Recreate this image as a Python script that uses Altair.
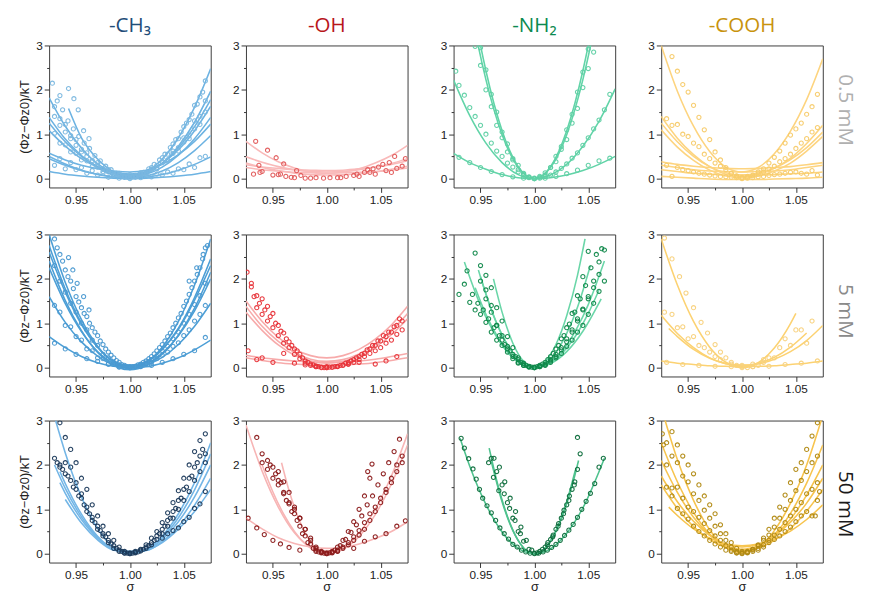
import altair as alt
import pandas as pd

# ---------------- shared grids (sigma values) ----------------
S = [0.925, 0.94, 0.955, 0.97, 0.985, 1.0, 1.015, 1.03, 1.045, 1.06, 1.075]
P = [0.930, 0.935, 0.940, 0.945, 0.950, 0.955, 0.960, 0.965, 0.970, 0.975,
     0.980, 0.985, 0.990, 0.995, 1.000, 1.005, 1.010, 1.015, 1.020, 1.025,
     1.030, 1.035, 1.040, 1.045, 1.050, 1.055, 1.060, 1.065, 1.070]
P2 = [0.9325, 0.9375, 0.9425, 0.9475, 0.9525, 0.9575, 0.9625, 0.9675, 0.9725, 0.9775,
      0.9825, 0.9875, 0.9925, 0.9975, 1.0025, 1.0075, 1.0125, 1.0175, 1.0225, 1.0275,
      1.0325, 1.0375, 1.0425, 1.0475, 1.0525, 1.0575, 1.0625, 1.0675]
N = None

GROUPS = ["-CH₃", "-OH", "-NH₂", "-COOH"]
GROUP_COLORS = ["#1f4e79", "#b8161b", "#0c8a50", "#c8930e"]
ROWS = ["0.5 mM", "5 mM", "50 mM"]
ROW_COLORS = ["#b0b0b0", "#8a8a8a", "#1a1a1a"]
LINE_COLORS = [
    ["#6db3e2", "#f9b9b9", "#62d4a8", "#fdd47f"],
    ["#4d9fd6", "#f7aaaa", "#6ad6a8", "#fcd272"],
    ["#74b6e6", "#f7b5b5", "#4fc28e", "#f7c44e"],
]
POINT_COLORS = [
    ["#7bb8e0", "#e25a5a", "#5fd0a5", "#f7cc6b"],
    ["#4a99d1", "#e8343a", "#10894b", "#f8d27e"],
    ["#1d3b5c", "#8c1c1c", "#0d6d3c", "#b28a12"],
]

# ======================= 0.5 mM =======================
CH3_05_LINES = [
    (S, [1.82, 1.18, 0.69, 0.33, 0.12, 0.05, 0.15, 0.44, 0.92, 1.61, 2.48]),
    (S, [1.38, 0.89, 0.52, 0.25, 0.08, 0.03, 0.11, 0.34, 0.73, 1.27, 1.97]),
    (S, [1.25, 0.83, 0.50, 0.27, 0.13, 0.08, 0.15, 0.35, 0.69, 1.17, 1.78]),
    (S, [1.08, 0.73, 0.45, 0.26, 0.14, 0.10, 0.16, 0.35, 0.65, 1.08, 1.63]),
    (S, [0.57, 0.42, 0.30, 0.22, 0.17, 0.15, 0.19, 0.32, 0.54, 0.84, 1.23]),
    (S, [0.50, 0.33, 0.19, 0.10, 0.04, 0.02, 0.06, 0.17, 0.36, 0.63, 0.97]),
    (S, [0.45, 0.30, 0.18, 0.09, 0.03, 0.01, 0.03, 0.09, 0.19, 0.32, 0.49]),
    (S, [0.16, 0.10, 0.06, 0.03, 0.01, 0.00, 0.01, 0.03, 0.06, 0.10, 0.16]),
    ([0.943, 0.955, 0.97, 0.985, 1.0, 1.015, 1.03, 1.045, 1.06, 1.075],
     [1.58, 0.92, 0.44, 0.15, 0.05, 0.10, 0.26, 0.53, 0.90, 1.38]),
]
CH3_05_PTS = [
    (P, [1.62, 1.35, 1.22, 0.97, 0.88, 0.66, 0.58, 0.41, 0.36, 0.22, 0.20, 0.10, 0.09, 0.04, 0.06,
         0.05, 0.11, 0.13, 0.25, 0.30, 0.47, 0.55, 0.78, 0.90, 1.17, 1.33, 1.65, 1.84, 2.20]),
    (P, [1.02, 0.80, 0.76, 0.60, 0.57, 0.42, 0.40, 0.27, 0.26, 0.16, 0.17, 0.10, 0.12, 0.06, 0.09,
         0.07, 0.13, 0.12, 0.22, 0.23, 0.36, 0.40, 0.57, 0.62, 0.82, 0.90, 1.12, 1.22, 1.50]),
    (P, [0.30, 0.45, 0.22, 0.36, 0.20, 0.25, 0.12, 0.18, 0.08, 0.12, 0.03, 0.07, 0.01, 0.04, 0.00,
         0.03, 0.02, 0.06, 0.04, 0.10, 0.08, 0.15, 0.12, 0.22, 0.20, 0.33, 0.25, 0.47, 0.50]),
    (P, [1.40, 1.20, 1.05, 0.90, 0.75, 0.60, 0.50, 0.38, 0.30, 0.22, 0.15, 0.08, 0.07, 0.03, 0.02,
         0.05, 0.08, 0.10, 0.20, 0.22, 0.38, 0.42, 0.62, 0.70, 0.92, 0.98, 1.30, 1.40, 1.75]),
    (P2, [1.75, 1.55, 1.30, 1.12, 0.95, 0.80, 0.68, 0.52, 0.40, 0.28, 0.20, 0.12, 0.06, 0.03,
          0.04, 0.08, 0.14, 0.22, 0.32, 0.42, 0.55, 0.70, 0.88, 1.05, 1.25, 1.45, 1.68, 1.95]),
    ([0.928, 0.935, 0.943, 0.948, 0.952, 0.957, 0.962],
     [2.15, 1.87, 2.03, 1.80, 1.55, 1.08, 0.90]),
]

OH_05_LINES = [
    (S, [0.84, 0.58, 0.38, 0.24, 0.15, 0.12, 0.15, 0.22, 0.35, 0.52, 0.75]),
    (S, [0.49, 0.37, 0.27, 0.20, 0.16, 0.15, 0.16, 0.20, 0.26, 0.34, 0.45]),
    (S, [0.31, 0.26, 0.23, 0.20, 0.19, 0.18, 0.19, 0.22, 0.26, 0.32, 0.40]),
    (S, [0.25, 0.20, 0.17, 0.14, 0.13, 0.12, 0.13, 0.14, 0.16, 0.19, 0.24]),
    (S, [0.35, 0.25, 0.18, 0.12, 0.09, 0.08, 0.09, 0.11, 0.15, 0.21, 0.28]),
]
OH_05_PTS = [
    ([0.932, 0.934, 0.937, 0.938, 0.940, 0.945, 0.950, 0.953, 0.955, 0.957, 0.960, 0.962, 0.967,
      0.970, 0.972, 0.976, 0.980, 0.985, 0.990, 0.997, 1.003, 1.010, 1.013, 1.018, 1.025, 1.028,
      1.030, 1.035, 1.038, 1.040, 1.043, 1.045, 1.048, 1.052, 1.055, 1.058, 1.060, 1.063, 1.065,
      1.070, 1.073],
     [0.10, 0.84, 0.30, 0.14, 0.16, 0.64, 0.08, 0.47, 0.09, 0.10, 0.33, 0.05, 0.03,
      0.02, 0.18, 0.07, 0.01, 0.01, 0.02, 0.01, 0.02, 0.02, 0.02, 0.05, 0.07, 0.10,
      0.05, 0.14, 0.20, 0.14, 0.22, 0.10, 0.26, 0.32, 0.18, 0.36, 0.14, 0.50, 0.23,
      0.28, 0.45]),
]

NH2_05_LINES = [
    (S, [6.75, 4.32, 2.43, 1.08, 0.27, 0.00, 0.27, 1.08, 2.43, 4.32, 6.75]),
    (S, [6.19, 3.96, 2.23, 0.99, 0.25, 0.00, 0.25, 0.99, 2.23, 3.96, 6.19]),
    (S, [2.22, 1.42, 0.80, 0.36, 0.09, 0.00, 0.08, 0.32, 0.73, 1.29, 2.02]),
    (S, [0.57, 0.36, 0.21, 0.09, 0.02, 0.00, 0.02, 0.08, 0.18, 0.32, 0.50]),
]
NH2_05_PTS = [
    (P, [N, N, N, N, 2.95, 2.45, 1.90, 1.50, 1.05, 0.78, 0.45, 0.30, 0.10, 0.04, 0.00,
         0.03, 0.13, 0.25, 0.50, 0.72, 1.10, 1.45, 1.95, 2.40, 2.92, N, N, N, N]),
    (P, [N, N, N, 2.98, 2.55, 2.00, 1.62, 1.20, 0.92, 0.60, 0.42, 0.20, 0.12, 0.02, 0.01,
         0.05, 0.08, 0.25, 0.38, 0.66, 0.88, 1.25, 1.58, 2.05, 2.48, 2.85, N, N, N]),
    (P, [2.10, 1.88, 1.60, 1.40, 1.20, 1.00, 0.80, 0.62, 0.50, 0.35, 0.26, 0.15, 0.08, 0.03, 0.00,
         0.01, 0.05, 0.08, 0.15, 0.23, 0.33, 0.46, 0.58, 0.75, 0.92, 1.12, 1.32, 1.55, 1.90]),
    ([0.927, 0.93, 0.94, 0.95, 0.96, 0.97, 0.98, 0.99, 1.0, 1.01, 1.02, 1.03, 1.04, 1.05, 1.06, 1.07],
     [2.42, 0.48, 0.36, 0.25, 0.16, 0.09, 0.04, 0.01, 0.0, 0.01, 0.05, 0.11, 0.19, 0.30, 0.40, 0.46]),
]

COOH_05_LINES = [
    (S, [3.00, 1.97, 1.18, 0.61, 0.26, 0.15, 0.25, 0.56, 1.07, 1.78, 2.70]),
    (S, [1.40, 0.91, 0.54, 0.27, 0.10, 0.05, 0.10, 0.23, 0.46, 0.79, 1.20]),
    (S, [1.25, 0.83, 0.50, 0.27, 0.13, 0.08, 0.12, 0.24, 0.43, 0.70, 1.05]),
    (S, [1.10, 0.71, 0.41, 0.19, 0.06, 0.02, 0.06, 0.17, 0.35, 0.62, 0.95]),
    (S, [0.38, 0.32, 0.28, 0.25, 0.23, 0.22, 0.23, 0.25, 0.27, 0.31, 0.36]),
    (S, [0.30, 0.25, 0.20, 0.17, 0.16, 0.15, 0.16, 0.17, 0.20, 0.25, 0.30]),
    (S, [0.20, 0.16, 0.12, 0.10, 0.08, 0.08, 0.08, 0.09, 0.11, 0.12, 0.15]),
    (S, [0.05, 0.03, 0.01, -0.01, -0.02, -0.02, -0.02, -0.01, 0.00, 0.01, 0.03]),
]
COOH_05_PTS = [
    (P, [N, 2.75, 2.42, 2.12, 1.95, 1.65, 1.38, 1.10, 0.88, 0.60, 0.42, 0.25, 0.12, 0.05, 0.01,
         0.03, 0.08, 0.15, 0.22, 0.35, 0.48, 0.62, 0.80, 0.98, 1.12, 1.25, 1.45, 1.62, 1.90]),
    (P, [1.35, 1.20, 1.22, 1.00, 0.95, 0.80, 0.72, 0.55, 0.45, 0.35, 0.28, 0.20, 0.12, 0.06, 0.03,
         0.05, 0.06, 0.10, 0.15, 0.22, 0.28, 0.38, 0.45, 0.55, 0.68, 0.80, 0.90, 1.05, 1.15]),
    (P, [0.30, 0.05, 0.25, 0.20, 0.18, 0.15, 0.12, 0.10, 0.08, 0.06, 0.05, 0.04, 0.03, 0.02, 0.00,
         0.01, 0.02, 0.04, 0.05, 0.07, 0.09, 0.10, 0.12, 0.14, 0.15, 0.12, 0.10, 0.18, 0.08]),
]

# ======================= 5 mM =======================
CH3_5_LINES = [
    (S, [3.00, 1.92, 1.08, 0.48, 0.12, 0.00, 0.12, 0.46, 1.04, 1.86, 2.90]),
    (S, [2.75, 1.77, 1.00, 0.46, 0.13, 0.02, 0.12, 0.41, 0.89, 1.58, 2.45]),
    (S, [2.60, 1.70, 0.97, 0.46, 0.15, 0.05, 0.14, 0.41, 0.86, 1.52, 2.30]),
    (S, [2.40, 1.51, 0.83, 0.34, 0.05, -0.05, 0.04, 0.30, 0.73, 1.34, 2.15]),
    (S, [2.25, 1.44, 0.81, 0.36, 0.09, 0.00, 0.08, 0.32, 0.72, 1.28, 2.00]),
    (S, [1.60, 1.02, 0.58, 0.26, 0.06, 0.00, 0.06, 0.23, 0.52, 0.93, 1.45]),
    (S, [0.70, 0.45, 0.25, 0.11, 0.03, 0.00, 0.02, 0.10, 0.22, 0.40, 0.62]),
]
CH3_5_PTS = [
    (P, [2.90, 2.55, 2.20, 1.95, 1.60, 1.35, 1.15, 0.90, 0.72, 0.52, 0.35, 0.22, 0.12, 0.05, 0.02,
         0.03, 0.08, 0.15, 0.25, 0.38, 0.52, 0.70, 0.90, 1.12, 1.38, 1.65, 1.95, 2.25, 2.70]),
    (P, [2.30, 1.95, 1.70, 1.45, 1.25, 1.00, 0.85, 0.62, 0.50, 0.30, 0.22, 0.12, 0.06, 0.00, 0.01,
         0.02, 0.07, 0.10, 0.18, 0.25, 0.38, 0.48, 0.65, 0.80, 1.00, 1.20, 1.42, 1.62, 1.90]),
    (P, [1.40, 1.25, 0.95, 0.92, 0.70, 0.62, 0.42, 0.38, 0.22, 0.20, 0.08, 0.07, 0.01, 0.02, 0.00,
         0.03, 0.02, 0.08, 0.12, 0.20, 0.28, 0.35, 0.48, 0.56, 0.72, 0.85, 1.05, 1.20, 1.40]),
    (P2, [2.70, 2.40, 2.05, 1.78, 1.48, 1.22, 1.00, 0.80, 0.60, 0.42, 0.28, 0.16, 0.07, 0.02,
          0.02, 0.06, 0.12, 0.20, 0.31, 0.45, 0.60, 0.78, 1.00, 1.22, 1.50, 1.80, 2.10, 2.45]),
    ([0.93, 0.94, 0.95, 0.96, 0.97, 0.98, 0.99, 1.0, 1.01, 1.02, 1.03, 1.04, 1.05, 1.06, 1.07],
     [0.55, 0.42, 0.30, 0.20, 0.14, 0.08, 0.02, 0.0, 0.03, 0.05, 0.12, 0.20, 0.30, 0.38, 0.68]),
    ([0.943, 0.947, 0.951, 0.957, 0.962, 1.055, 1.062, 1.068, 1.072],
     [2.48, 2.20, 1.90, 1.60, 1.30, 1.95, 2.25, 2.55, 2.75]),
]

OH_5_LINES = [
    (S, [1.50, 1.04, 0.68, 0.42, 0.27, 0.22, 0.27, 0.41, 0.64, 0.96, 1.38]),
    (S, [1.38, 0.93, 0.59, 0.34, 0.19, 0.14, 0.18, 0.31, 0.53, 0.83, 1.22]),
    (S, [1.25, 0.84, 0.51, 0.28, 0.15, 0.10, 0.14, 0.26, 0.46, 0.74, 1.10]),
    (S, [0.28, 0.22, 0.18, 0.15, 0.13, 0.12, 0.13, 0.15, 0.19, 0.25, 0.32]),
    (S, [0.22, 0.16, 0.11, 0.08, 0.06, 0.05, 0.06, 0.08, 0.11, 0.16, 0.22]),
]
OH_5_PTS = [
    (P, [1.90, 1.62, 1.55, 1.38, 1.22, 0.95, 0.78, 0.58, 0.42, 0.30, 0.15, 0.08, 0.04, 0.01, 0.00,
         0.01, 0.03, 0.06, 0.12, 0.18, 0.25, 0.32, 0.42, 0.50, 0.60, 0.70, 0.80, 0.95, 1.05]),
    (P, [1.82, 1.35, 1.20, 1.05, 0.90, 0.72, 0.55, 0.45, 0.30, 0.20, 0.10, 0.05, 0.02, 0.00, 0.02,
         0.01, 0.02, 0.05, 0.08, 0.12, 0.18, 0.25, 0.32, 0.38, 0.45, 0.55, 0.62, 0.75, 0.85]),
    (P2, [1.60, 1.45, 1.30, 1.15, 1.00, 0.82, 0.65, 0.50, 0.38, 0.22, 0.12, 0.06, 0.02, 0.00,
          0.01, 0.02, 0.05, 0.10, 0.15, 0.22, 0.30, 0.40, 0.50, 0.60, 0.72, 0.80, 0.92, 1.10]),
    ([0.926, 0.927, 0.935, 0.94, 0.95, 0.96, 0.97, 0.98, 0.99, 1.0, 1.01, 1.02, 1.03, 1.045, 1.055, 1.065],
     [2.15, 0.38, 0.18, 0.22, 0.12, 0.32, 0.10, 0.06, 0.02, 0.0, 0.03, 0.08, 0.12, 0.08, 0.15, 0.25]),
]

NH2_5_LINES = [
    ([0.935, 0.95, 0.965, 0.98, 0.99, 1.0, 1.01, 1.02, 1.03, 1.04, 1.047],
     [2.38, 1.40, 0.69, 0.22, 0.06, 0.0, 0.13, 0.52, 1.17, 2.08, 2.90]),
    ([0.948, 0.96, 0.97, 0.98, 0.99, 1.0, 1.01, 1.02, 1.03, 1.04, 1.052],
     [2.20, 1.30, 0.73, 0.33, 0.08, 0.0, 0.09, 0.34, 0.77, 1.36, 2.30]),
    ([0.95, 0.96, 0.97, 0.98, 0.99, 1.0, 1.01, 1.02, 1.03, 1.04, 1.05, 1.06],
     [2.05, 1.31, 0.74, 0.33, 0.08, 0.0, 0.05, 0.19, 0.44, 0.78, 1.22, 1.75]),
    ([0.962, 0.97, 0.98, 0.99, 1.0, 1.01, 1.02, 1.03, 1.04, 1.05, 1.065],
     [2.00, 1.25, 0.55, 0.14, 0.0, 0.06, 0.23, 0.51, 0.91, 1.42, 2.40]),
    ([0.945, 0.955, 0.965, 0.975, 0.985, 1.0, 1.015, 1.03, 1.045, 1.062],
     [1.80, 1.20, 0.73, 0.37, 0.13, 0.0, 0.09, 0.36, 0.82, 1.55]),
]
NH2_5_PTS = [
    (P, [1.65, 1.88, 1.47, 1.30, 1.20, 1.02, 0.80, 0.62, 0.50, 0.35, 0.20, 0.12, 0.05, 0.02, 0.00,
         0.04, 0.12, 0.25, 0.42, 0.65, 0.90, 1.22, 1.62, 2.05, 2.62, N, N, N, N]),
    (P, [N, N, N, 2.58, 2.30, 1.75, 1.40, 0.95, 0.62, 0.42, 0.25, 0.10, 0.05, 0.01, 0.00,
         0.02, 0.05, 0.15, 0.25, 0.40, 0.58, 0.80, 1.05, 1.32, 1.60, 1.95, 2.38, 2.65, N]),
    (P, [N, N, N, N, N, 2.08, 1.80, 1.35, 1.05, 0.70, 0.45, 0.22, 0.10, 0.03, 0.00,
         0.05, 0.08, 0.18, 0.30, 0.45, 0.65, 0.85, 1.10, 1.30, 1.55, 1.80, 2.10, N, N]),
    (P, [N, N, N, N, 1.95, 1.55, 1.25, 0.95, 0.72, 0.48, 0.30, 0.18, 0.08, 0.02, 0.01,
         0.02, 0.06, 0.12, 0.22, 0.32, 0.48, 0.62, 0.80, 0.95, 1.20, 1.45, 1.72, 1.95, N]),
    (P2, [N, 2.18, 1.65, 1.45, 1.30, 1.10, 0.90, 0.72, 0.52, 0.38, 0.25, 0.12, 0.05, 0.01,
          0.02, 0.08, 0.18, 0.32, 0.50, 0.72, 0.98, 1.25, 1.55, 1.85, 2.25, 2.55, 2.68, N]),
]

COOH_5_LINES = [
    ([0.925, 0.94, 0.955, 0.97, 0.985, 1.0, 1.015, 1.03, 1.045, 1.05],
     [2.90, 1.86, 1.04, 0.46, 0.12, 0.0, 0.11, 0.44, 0.99, 1.22]),
    (S, [1.18, 0.77, 0.45, 0.22, 0.09, 0.05, 0.08, 0.19, 0.36, 0.61, 0.95]),
    ([0.932, 0.94, 0.955, 0.97, 0.985, 1.0, 1.015, 1.03, 1.045, 1.06],
     [0.88, 0.70, 0.41, 0.21, 0.09, 0.05, 0.10, 0.23, 0.46, 0.78]),
    (S, [0.15, 0.10, 0.07, 0.04, 0.03, 0.02, 0.03, 0.04, 0.07, 0.10, 0.15]),
]
COOH_5_PTS = [
    ([0.928, 0.935, 0.942, 0.948, 0.955, 0.962, 0.968, 0.975, 0.98, 0.985, 0.99, 0.995, 1.0,
      1.005, 1.01, 1.015, 1.02, 1.025],
     [2.92, 2.45, 2.05, 1.68, 1.35, 1.02, 0.78, 0.52, 0.35, 0.22, 0.12, 0.05, 0.02,
      0.0, 0.02, 0.05, 0.12, 0.22]),
    ([0.928, 0.935, 0.94, 0.945, 0.95, 0.955, 0.96, 0.965, 0.97, 0.975, 0.98, 0.99, 1.0, 1.01,
      1.02, 1.03, 1.035, 1.04, 1.045, 1.05, 1.055, 1.06, 1.065],
     [1.25, 1.20, 0.90, 0.92, 0.65, 0.70, 0.50, 0.45, 0.35, 0.25, 0.18, 0.08, 0.05, 0.08,
      0.18, 0.22, 0.45, 0.65, 0.50, 0.85, 0.85, 0.55, 1.05]),
    ([0.93, 0.945, 0.96, 0.975, 0.99, 1.0, 1.01, 1.025, 1.04, 1.055, 1.07],
     [0.12, 0.07, 0.05, 0.03, 0.02, 0.0, 0.02, 0.03, 0.07, 0.10, 0.15]),
]

# ======================= 50 mM =======================
CH3_50_LINES = [
    ([0.931, 0.94, 0.955, 0.97, 0.985, 1.0, 1.015, 1.03, 1.045, 1.06, 1.075],
     [3.00, 2.27, 1.28, 0.57, 0.14, 0.0, 0.10, 0.40, 0.90, 1.60, 2.50]),
    ([0.93, 0.94, 0.955, 0.97, 0.985, 1.0, 1.015, 1.03, 1.045, 1.06, 1.075],
     [2.00, 1.47, 0.83, 0.37, 0.09, 0.02, 0.09, 0.36, 0.81, 1.44, 2.25]),
    ([0.935, 0.94, 0.955, 0.97, 0.985, 1.0, 1.015, 1.03, 1.045, 1.06, 1.075],
     [1.85, 1.58, 0.89, 0.39, 0.10, 0.03, 0.08, 0.32, 0.72, 1.28, 2.00]),
    ([0.94, 0.955, 0.97, 0.985, 1.0, 1.015, 1.03, 1.045, 1.06, 1.075],
     [1.22, 0.69, 0.31, 0.08, 0.05, 0.07, 0.27, 0.61, 1.09, 1.70]),
    ([0.935, 0.94, 0.955, 0.97, 0.985, 1.0, 1.015, 1.03, 1.045, 1.06, 1.075],
     [1.60, 1.36, 0.77, 0.35, 0.10, 0.05, 0.08, 0.25, 0.55, 0.95, 1.45]),
]
CH3_50_PTS = [
    (P, [2.15, 2.95, 2.62, 2.35, 2.05, 1.70, 1.45, 1.10, 0.85, 0.62, 0.45, 0.30, 0.15, 0.05, 0.00,
         0.03, 0.10, 0.20, 0.35, 0.50, 0.70, 0.92, 1.15, 1.42, 1.70, 2.00, 2.30, 2.55, 2.70]),
    (P, [N, 2.00, 2.05, 1.95, 1.60, 1.35, 1.05, 0.82, 0.62, 0.45, 0.30, 0.18, 0.08, 0.02, 0.00,
         0.02, 0.06, 0.15, 0.25, 0.40, 0.55, 0.75, 0.95, 1.20, 1.45, 1.70, 1.95, 2.20, 2.25]),
    (P, [N, 1.95, 1.80, 1.65, 1.45, 1.25, 0.95, 0.75, 0.55, 0.40, 0.25, 0.12, 0.05, 0.01, 0.02,
         0.05, 0.08, 0.12, 0.20, 0.32, 0.45, 0.62, 0.80, 1.00, 1.20, 1.40, 1.65, 1.85, 2.05]),
    (P2, [2.05, 1.90, 1.75, 1.50, 1.30, 1.10, 0.90, 0.70, 0.52, 0.38, 0.22, 0.12, 0.05, 0.01,
          0.01, 0.04, 0.10, 0.18, 0.30, 0.45, 0.62, 0.80, 1.02, 1.25, 1.50, 1.75, 2.05, 2.35]),
    ([1.03, 1.035, 1.04, 1.045, 1.05, 1.055, 1.06, 1.065, 1.07],
     [0.35, 0.45, 0.52, 0.58, 0.72, 0.82, 1.02, 1.12, 1.40]),
]

OH_50_LINES = [
    (S, [2.90, 1.86, 1.05, 0.47, 0.15, 0.05, 0.15, 0.47, 1.00, 1.75, 2.70]),
    ([0.958, 0.965, 0.975, 0.985, 0.995, 1.005, 1.015, 1.03, 1.045, 1.06, 1.075],
     [2.05, 1.42, 0.73, 0.26, 0.03, 0.03, 0.10, 0.39, 0.88, 1.57, 2.45]),
    (S, [0.80, 0.56, 0.36, 0.23, 0.15, 0.12, 0.14, 0.22, 0.34, 0.50, 0.72]),
    ([0.94, 0.95, 0.96, 0.97, 0.98, 0.99, 1.0],
     [2.00, 1.39, 0.89, 0.50, 0.22, 0.06, 0.0]),
]
OH_50_PTS = [
    (P, [N, 2.62, 2.25, 2.10, 1.95, 1.65, 1.38, 1.12, 0.90, 0.62, 0.40, 0.22, 0.08, 0.02, 0.00,
         0.05, 0.15, 0.30, 0.50, 0.72, 1.00, 1.30, 1.70, N, N, N, N, N, N]),
    (P, [N, N, 2.05, 1.90, 1.70, 1.55, 1.35, 1.15, 1.00, 0.80, 0.55, 0.35, 0.15, 0.05, 0.02,
         0.03, 0.08, 0.15, 0.25, 0.38, 0.52, 0.70, 0.90, 1.05, 1.25, 1.45, 1.70, 2.00, 2.20]),
    (P, [N, N, N, N, N, 1.85, 1.62, 1.38, 1.05, 0.80, 0.55, 0.30, 0.12, 0.03, 0.00,
         0.02, 0.06, 0.12, 0.20, 0.30, 0.42, 0.55, 0.75, 0.95, 1.15, 1.38, 1.60, 1.85, 2.05]),
    (P2, [N, N, N, 2.00, 1.80, 1.60, 1.20, 0.95, 0.75, 0.45, 0.25, 0.12, 0.04, 0.01,
          0.02, 0.08, 0.18, 0.32, 0.48, 0.65, 0.85, 1.10, 1.30, 1.55, 1.80, 2.05, 2.30, 2.58]),
    ([0.927, 0.935, 0.942, 0.95, 0.957, 0.965, 0.975, 0.99, 1.01, 1.025, 1.035, 1.038, 1.042,
      1.045, 1.055, 1.065, 1.073],
     [0.80, 0.58, 0.43, 0.30, 0.22, 0.14, 0.08, 0.05, 0.05, 0.12, 0.28, 1.85, 2.02,
      0.38, 0.45, 0.62, 0.74]),
]

NH2_50_LINES = [
    ([0.931, 0.94, 0.955, 0.97, 0.985, 1.0, 1.015, 1.03, 1.045, 1.065],
     [2.60, 1.97, 1.11, 0.49, 0.12, 0.0, 0.11, 0.46, 1.03, 2.15]),
    ([0.958, 0.965, 0.975, 0.985, 0.995, 1.0, 1.005, 1.015, 1.025, 1.035, 1.041],
     [2.38, 1.65, 0.84, 0.30, 0.03, 0.0, 0.03, 0.28, 0.78, 1.53, 2.10]),
    ([0.96, 0.97, 0.98, 0.99, 1.0, 1.01, 1.02, 1.03, 1.038],
     [2.08, 1.17, 0.52, 0.13, 0.0, 0.13, 0.52, 1.17, 1.88]),
]
NH2_50_PTS = [
    ([0.932, 0.935, 0.939, 0.943, 0.946, 0.949, 0.952, 0.956, 0.960, 0.964, 0.968, 0.972,
      0.976, 0.980, 0.984, 0.988, 0.992, 0.996, 1.000, 1.004, 1.008, 1.012, 1.016, 1.020,
      1.024, 1.028, 1.032, 1.036, 1.040, 1.044, 1.048, 1.052, 1.056, 1.060, 1.064],
     [2.60, 2.38, 2.14, 1.91, 1.68, 1.45, 1.25, 1.08, 0.92, 0.75, 0.58, 0.45,
      0.33, 0.21, 0.15, 0.08, 0.04, 0.01, 0.00, 0.01, 0.04, 0.08, 0.14, 0.21,
      0.30, 0.41, 0.53, 0.66, 0.82, 1.00, 1.18, 1.36, 1.58, 1.95, 2.15]),
    (P, [N, N, N, N, N, N, 2.15, 1.85, 1.55, 1.15, 0.80, 0.50, 0.28, 0.10, 0.01,
         0.05, 0.15, 0.32, 0.55, 0.80, 1.10, 1.45, 1.90, N, N, N, N, N, N]),
    ([0.9575, 0.9625, 0.9675, 0.9725, 0.9775, 0.9825, 0.9875, 0.9925, 0.9975, 1.0025,
      1.0075, 1.0125, 1.0175, 1.0225, 1.0275, 1.0325, 1.0375, 1.0425],
     [2.05, 2.15, 1.95, 1.62, 1.25, 0.95, 0.60, 0.30, 0.08, 0.02,
      0.10, 0.25, 0.42, 0.68, 0.98, 1.30, 1.62, 2.25]),
    ([0.962, 0.967, 0.972, 0.977, 0.982, 0.987, 1.012, 1.017, 1.022, 1.027, 1.032, 1.037, 1.04],
     [1.72, 1.42, 1.35, 1.02, 0.75, 0.45, 0.20, 0.38, 0.62, 0.90, 1.20, 1.55, 2.62]),
]

COOH_50_LINES = [
    (S, [3.30, 2.12, 1.20, 0.54, 0.15, 0.02, 0.14, 0.52, 1.14, 2.00, 3.12]),
    (S, [2.50, 1.62, 0.93, 0.44, 0.15, 0.05, 0.15, 0.43, 0.91, 1.59, 2.45]),
    (S, [2.10, 1.38, 0.82, 0.42, 0.18, 0.10, 0.18, 0.40, 0.78, 1.32, 2.00]),
    (S, [1.75, 1.17, 0.73, 0.41, 0.21, 0.15, 0.21, 0.40, 0.71, 1.14, 1.70]),
    (S, [1.55, 1.02, 0.61, 0.32, 0.14, 0.08, 0.13, 0.30, 0.57, 0.96, 1.45]),
    ([0.932, 0.94, 0.955, 0.97, 0.985, 1.0, 1.015, 1.03, 1.045, 1.06, 1.075],
     [1.05, 0.86, 0.56, 0.35, 0.22, 0.18, 0.22, 0.33, 0.51, 0.77, 1.10]),
]
COOH_50_PTS = [
    (P, [2.50, 2.75, 2.45, 2.20, 2.00, 1.80, 1.55, 1.30, 1.10, 0.90, 0.65, 0.45, 0.25, 0.12, 0.05,
         0.03, 0.10, 0.20, 0.35, 0.55, 0.80, 1.05, 1.32, 1.60, 1.90, 2.05, 2.35, 2.65, 2.95]),
    (P, [2.00, 2.20, 2.05, 1.75, 1.62, 1.35, 1.20, 0.98, 0.80, 0.62, 0.45, 0.30, 0.15, 0.05, 0.02,
         0.05, 0.10, 0.18, 0.30, 0.42, 0.60, 0.80, 1.00, 1.20, 1.42, 1.65, 1.85, 2.05, 2.20]),
    (P, [1.50, 1.48, 1.50, 1.25, 1.05, 0.95, 0.82, 0.68, 0.52, 0.40, 0.30, 0.18, 0.08, 0.02, 0.01,
         0.03, 0.08, 0.12, 0.20, 0.30, 0.42, 0.55, 0.70, 0.85, 1.00, 1.15, 1.35, 1.45, 1.60]),
    (P, [N, 1.30, 1.02, 0.90, 0.78, 0.62, 0.50, 0.40, 0.30, 0.22, 0.15, 0.08, 0.05, 0.02, 0.00,
         0.02, 0.05, 0.08, 0.15, 0.25, 0.32, 0.40, 0.50, 0.60, 0.72, 0.85, 0.95, 0.85, 1.20]),
    ([0.926, 0.927, 1.068, 1.072], [2.70, 2.45, 0.85, 1.40]),
]

LINES = [
    [CH3_05_LINES, OH_05_LINES, NH2_05_LINES, COOH_05_LINES],
    [CH3_5_LINES, OH_5_LINES, NH2_5_LINES, COOH_5_LINES],
    [CH3_50_LINES, OH_50_LINES, NH2_50_LINES, COOH_50_LINES],
]
POINTS = [
    [CH3_05_PTS, OH_05_PTS, NH2_05_PTS, COOH_05_PTS],
    [CH3_5_PTS, OH_5_PTS, NH2_5_PTS, COOH_5_PTS],
    [CH3_50_PTS, OH_50_PTS, NH2_50_PTS, COOH_50_PTS],
]

X_TICKS = [0.95, 0.975, 1.0, 1.025, 1.05]
Y_TICKS = [0, 0.5, 1, 1.5, 2, 2.5, 3]
XDOM = [0.925, 1.075]
YDOM = [-0.2, 3.0]

MINOR_X = "abs(datum.value*20 - round(datum.value*20)) > 0.001"
MINOR_Y = "datum.value % 1 != 0"


def to_frame(series, key):
    rows = []
    for i, (xs, ys) in enumerate(series):
        for x, y in zip(xs, ys):
            if y is not None:
                rows.append({"sigma": x, "phi": y, key: i})
    return pd.DataFrame(rows)


def panel(r, c):
    xaxis_kw = dict(
        values=X_TICKS,
        labelExpr=f"({MINOR_X}) ? '' : format(datum.value, '.2f')",
        tickSize={"condition": {"test": MINOR_X, "value": 2.5}, "value": 5},
        title="σ" if r == 2 else "",
        titlePadding=1,
    )
    yaxis_kw = dict(
        values=Y_TICKS,
        labelExpr=f"({MINOR_Y}) ? '' : format(datum.value, 'd')",
        tickSize={"condition": {"test": MINOR_Y, "value": 2.5}, "value": 5},
        title="(Φz−Φz0)/kT" if c == 0 else "",
    )
    x = alt.X("sigma:Q", scale=alt.Scale(domain=XDOM, nice=False, zero=False),
              axis=alt.Axis(**xaxis_kw))
    y = alt.Y("phi:Q", scale=alt.Scale(domain=YDOM, nice=False, zero=False),
              axis=alt.Axis(**yaxis_kw))
    lines = alt.Chart(to_frame(LINES[r][c], "curve")).mark_line(
        clip=True, interpolate="monotone", strokeWidth=1.6, color=LINE_COLORS[r][c]
    ).encode(x=x, y=y, detail="curve:N")
    pts = alt.Chart(to_frame(POINTS[r][c], "series")).mark_point(
        clip=True, shape="circle", filled=False, size=18, strokeWidth=1.1,
        color=POINT_COLORS[r][c], opacity=0.95
    ).encode(x=x, y=y)
    props = dict(width=165, height=145)
    if r == 0:
        props["title"] = alt.Title(GROUPS[c], color=GROUP_COLORS[c], fontSize=21,
                                   font="Open Sans", fontWeight="normal", offset=4)
    return alt.layer(lines, pts).properties(**props)


rows = []
for r in range(3):
    p = [panel(r, c) for c in range(4)]
    left_pair = alt.hconcat(p[0], p[1], spacing=20)
    last = alt.hconcat(
        p[3],
        title=alt.Title(ROWS[r], orient="right", anchor="middle", fontSize=21,
                        font="Open Sans", fontWeight="normal", color=ROW_COLORS[r], offset=12),
    )
    rows.append(alt.hconcat(left_pair, p[2], last, spacing=31))

top = alt.vconcat(rows[0], rows[1], spacing=22)
chart = alt.vconcat(top, rows[2], spacing=19).properties(
    padding={"left": 10, "top": 0, "right": 5, "bottom": 0}
).configure_view(
    stroke="#3a3a3a", strokeWidth=1
).configure_axis(
    domain=False, grid=False, tickColor="#333333", tickWidth=1,
    labelFont="Liberation Sans", labelFontSize=12, labelColor="#222222", labelPadding=2,
    titleFont="Liberation Sans", titleFontSize=13, titleFontWeight="normal",
    titleColor="#222222", labelOverlap=False,
)

chart.save("out.html", embed_options={"renderer": "svg", "actions": False})
